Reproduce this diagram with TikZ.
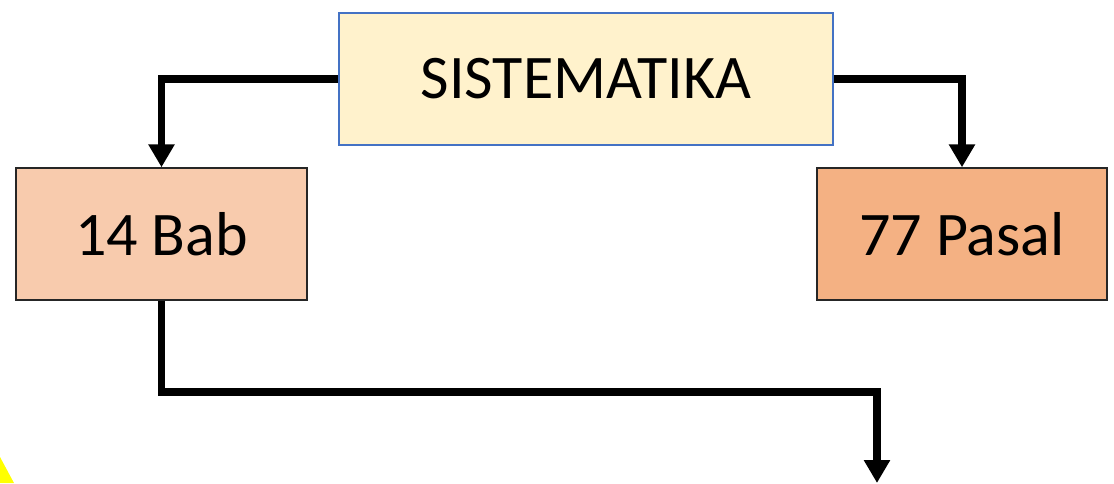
\documentclass[tikz,border=0pt]{standalone}
\usepackage{fontspec}
\setmainfont{Carlito}
\usetikzlibrary{arrows.meta}
\definecolor{headfill}{HTML}{FFF2CC}
\definecolor{headline}{HTML}{4472C4}
\definecolor{babfill}{HTML}{F8CBAD}
\definecolor{pasalfill}{HTML}{F4B183}
\definecolor{boxline}{HTML}{262626}
\definecolor{marker}{HTML}{FFFF00}
\tikzset{
  box/.style={draw=boxline, line width=1.4pt, minimum height=132pt, inner sep=0pt,
    font=\fontsize{62}{70}\selectfont},
  conn/.style={line width=7.5pt, black, -{Triangle[length=23pt,width=25pt]}}
}
\begin{document}
\begin{tikzpicture}[x=1pt,y=1pt]
\useasboundingbox (0,0) rectangle (1114,483);
% title box and the two parts
\node[box, draw=headline, fill=headfill, minimum width=494pt] (sis) at (586,404) {SISTEMATIKA};
\node[box, fill=babfill, minimum width=291pt] (bab) at (161.5,249) {14 Bab};
\node[box, fill=pasalfill, minimum width=290pt] (pasal) at (962,249) {77 Pasal};
% free end of the lower connector
\coordinate (turn) at (877,91);
\coordinate (down) at (877,0);
\draw[conn] (sis.west) -| (bab.north);
\draw[conn] (sis.east) -| (pasal.north);
\draw[conn] (bab.south) |- (turn) -- (down);
% small yellow corner mark
\fill[marker] (0,26) -- (14,0) -- (0,0) -- cycle;
\end{tikzpicture}
\end{document}
